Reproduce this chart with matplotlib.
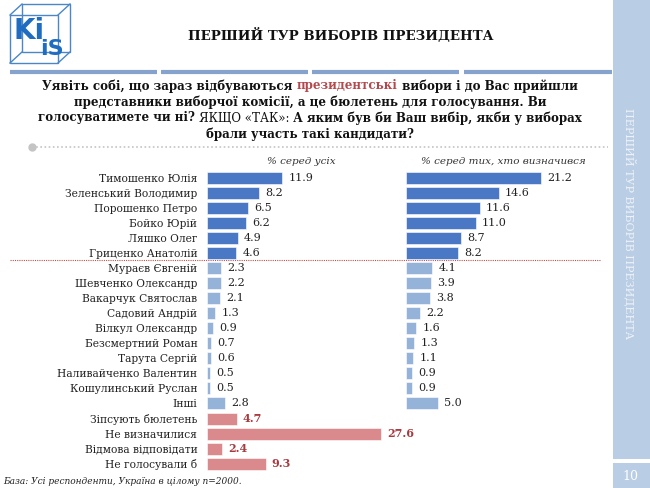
import matplotlib
matplotlib.use("Agg")
import matplotlib.pyplot as plt
from matplotlib.patches import Rectangle, Polygon
import numpy as np

# дані з слайду
candidates = ["Тимошенко Юлія", "Зеленський Володимир", "Порошенко Петро",
              "Бойко Юрій", "Ляшко Олег", "Гриценко Анатолій",
              "Мураєв Євгеній", "Шевченко Олександр", "Вакарчук Святослав",
              "Садовий Андрій", "Вілкул Олександр", "Безсмертний Роман",
              "Тарута Сергій", "Наливайченко Валентин", "Кошулинський Руслан",
              "Інші", "Зіпсують бюлетень", "Не визначилися",
              "Відмова відповідати", "Не голосували б"]
all_pct = [11.9, 8.2, 6.5, 6.2, 4.9, 4.6, 2.3, 2.2, 2.1, 1.3, 0.9, 0.7,
           0.6, 0.5, 0.5, 2.8, 4.7, 27.6, 2.4, 9.3]
decided_pct = [21.2, 14.6, 11.6, 11.0, 8.7, 8.2, 4.1, 3.9, 3.8, 2.2, 1.6,
               1.3, 1.1, 0.9, 0.9, 5.0]
n_top = 6      # лідери - темні стовпчики
n_named = 16   # кандидати + "Інші"

dark_blue = "#4a78c4"
light_blue = "#95b3d9"
pink = "#da8a8c"
dark_red = "#a83a40"
side_blue = "#b9cde4"
seg_blue = "#86a3cd"
txt = "#222222"

plt.rcParams["font.family"] = "DejaVu Serif"

fig = plt.figure(figsize=(6.5, 4.88), dpi=100)
bg = fig.add_axes([0, 0, 1, 1])
bg.set_xlim(0, 650)
bg.set_ylim(488, 0)
bg.axis("off")

# бічна панель
bg.add_patch(Rectangle((612.5, 0), 38, 459, color=side_blue, lw=0))
bg.add_patch(Rectangle((612.5, 463), 38, 25, color=side_blue, lw=0))
bg.text(630, 477, "10", color="white", fontsize=9, ha="center", va="center")
bg.text(630, 223, "ПЕРШИЙ ТУР ВИБОРІВ ПРЕЗИДЕНТА", color="#eef2f8",
        fontsize=8, rotation=270, ha="center", va="center")

# логотип
lc = "#4a86c8"
front = [(10, 15), (58, 15), (58, 63), (10, 63)]
back = [(22, 4), (70, 4), (70, 52), (22, 52)]
bg.add_patch(Polygon(front, closed=True, fill=False, ec=lc, lw=1))
bg.add_patch(Polygon(back, closed=True, fill=False, ec=lc, lw=1))
for p, q in zip(front, back):
    bg.plot([p[0], q[0]], [p[1], q[1]], color=lc, lw=1)
bg.text(29, 31, "Ki", color="#1f6cc0", fontsize=20, fontweight="bold",
        family="DejaVu Sans", ha="center", va="center")
bg.text(52, 49, "iS", color="#1f6cc0", fontsize=16, fontweight="bold",
        family="DejaVu Sans", ha="center", va="center")

# заголовок
bg.text(341, 36, "ПЕРШИЙ ТУР ВИБОРІВ ПРЕЗИДЕНТА", fontsize=9.6,
        fontweight="bold", color="#111111", ha="center", va="center")
for x0, x1 in [(10, 157), (161, 308), (312, 459), (464, 612)]:
    bg.plot([x0, x1], [71.5, 71.5], color=seg_blue, lw=3, solid_capstyle="butt")

# питання з різними стилями в рядку
renderer = fig.canvas.get_renderer()


def styled_line(parts, xc, y, size=8.6):
    objs = []
    for s, kw in parts:
        t = bg.text(0, y, s, fontsize=size, va="center", ha="left", **kw)
        objs.append(t)
    widths = [o.get_window_extent(renderer).width for o in objs]
    x = xc - sum(widths) / 2
    for o, w in zip(objs, widths):
        o.set_x(x)
        x += w


B = dict(fontweight="bold", color="#111111")
styled_line([("Уявіть собі, що зараз відбуваються ", B),
             ("президентські", dict(fontweight="bold", color="#b5484c")),
             (" вибори і до Вас прийшли", B)], 310, 86)
styled_line([("представники виборчої комісії, а це бюлетень для голосування. Ви", B)], 310, 102)
styled_line([("голосуватимете чи ні? ", B),
             ("ЯКЩО «ТАК»:", dict(color="#111111")),
             (" А яким був би Ваш вибір, якби у виборах", B)], 310, 118)
styled_line([("брали участь такі кандидати?", B)], 310, 134)

bg.plot([32, 608], [147, 147], color="#c4c4c4", lw=1.2, ls=(0, (1, 1.5)))
bg.plot([32], [147], "o", color="#c4c4c4", ms=5)

# підписи стовпців
bg.text(301, 161, "% серед усіх", fontsize=7.5, style="italic",
        color="#333333", ha="center", va="center")
bg.text(503, 161, "% серед тих, хто визначився", fontsize=7.5,
        style="italic", color="#333333", ha="center", va="center")

# лінія-розділювач
bg.plot([10, 600], [259.5, 259.5], color="#c0504d", lw=0.8, ls=(0, (1, 1)))

# футер
bg.text(3, 481, "База: Усі респонденти, Україна в цілому n=2000.",
        fontsize=6.5, style="italic", color="#222222", ha="left", va="center")

# графіки
row_top, row_h = 170.2, 15.05
n_rows = len(candidates)
bottom = (488 - (row_top + n_rows * row_h)) / 488
height = n_rows * row_h / 488
ax1 = fig.add_axes([207 / 650, bottom, 189 / 650, height])
ax2 = fig.add_axes([406 / 650, bottom, 190.5 / 650, height])

y = np.arange(n_rows)
colors1 = [dark_blue] * n_top + [light_blue] * (n_named - n_top) + [pink] * (n_rows - n_named)
ax1.barh(y, all_pct, height=0.8, color=colors1, edgecolor="white", linewidth=0.4)
for i, v in enumerate(all_pct):
    red = i >= n_named
    ax1.annotate(f"{v:.1f}", (v, i), xytext=(4.5, 0), textcoords="offset points",
                 va="center", ha="left", fontsize=8,
                 color=dark_red if red else txt,
                 fontweight="bold" if red else "normal")
ax1.set_yticks(y, candidates)
ax1.tick_params(axis="y", length=0, pad=7, labelsize=7.7, labelcolor=txt)

y2 = np.arange(n_named)
colors2 = [dark_blue] * n_top + [light_blue] * (n_named - n_top)
ax2.barh(y2, decided_pct, height=0.8, color=colors2, edgecolor="white", linewidth=0.4)
for i, v in enumerate(decided_pct):
    ax2.annotate(f"{v:.1f}", (v, i), xytext=(4.5, 0), textcoords="offset points",
                 va="center", ha="left", fontsize=8, color=txt)
ax2.set_yticks([])

for ax in (ax1, ax2):
    ax.set_xlim(0, 30)
    ax.set_ylim(n_rows - 0.5, -0.5)
    ax.set_xticks([])
    ax.patch.set_alpha(0)
    for s in ax.spines.values():
        s.set_visible(False)

fig.savefig("out.png", dpi=100)
